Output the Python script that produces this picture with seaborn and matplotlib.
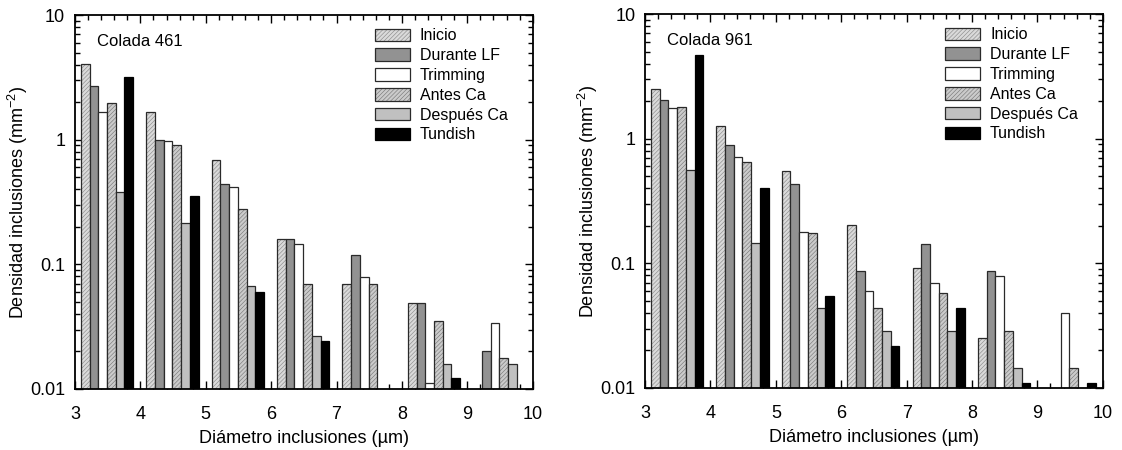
import numpy as np
import pandas as pd
import matplotlib
matplotlib.use("Agg")
import matplotlib.pyplot as plt
import matplotlib.ticker as mticker
from matplotlib.patches import Patch
from matplotlib.colors import to_rgba
import seaborn as sns

# ---------------- data ----------------
bins = [3, 4, 5, 6, 7, 8, 9]          # lower edge of each diameter bin (µm)
series = ["Inicio", "Durante LF", "Trimming", "Antes Ca", "Después Ca", "Tundish"]

# Colada 461
c461_inicio   = [4.06, 1.67, 0.69, 0.159, 0.0695, 0.0493, np.nan]
c461_durante  = [2.68, 0.99, 0.437, 0.159, 0.119, 0.0493, 0.0200]
c461_trimming = [1.67, 0.97, 0.417, 0.146, 0.0789, 0.0112, 0.0339]
c461_antes    = [1.97, 0.91, 0.279, 0.0701, 0.0701, 0.0350, 0.0176]
c461_despues  = [0.377, 0.214, 0.0668, 0.0265, np.nan, 0.0158, 0.0158]
c461_tundish  = [3.17, 0.353, 0.0605, 0.0241, np.nan, 0.0123, np.nan]

# Colada 961
c961_inicio   = [2.50, 1.27, 0.555, 0.202, 0.092, 0.0251, np.nan]
c961_durante  = [2.04, 0.895, 0.431, 0.0865, 0.144, 0.0865, np.nan]
c961_trimming = [1.75, 0.707, 0.180, 0.0601, 0.0701, 0.0798, 0.0399]
c961_antes    = [1.80, 0.652, 0.174, 0.0435, 0.0579, 0.0289, 0.0145]
c961_despues  = [0.565, 0.145, 0.0435, 0.0289, 0.0289, 0.0145, np.nan]
c961_tundish  = [4.65, 0.405, 0.0551, 0.0219, 0.0438, 0.0110, 0.0110]

titles = ["Colada 461", "Colada 961"]
xlabel = "Diámetro inclusiones (µm)"
ylabel = "Densidad inclusiones (mm$^{-2}$)"
yticks = [0.01, 0.1, 1, 10]
ytick_labels = ["0.01", "0.1", "1", "10"]
xticks = [3, 4, 5, 6, 7, 8, 9, 10]

# ---------------- style ----------------
sns.set_theme(style="ticks")
plt.rcParams["font.family"] = ["Liberation Sans", "DejaVu Sans"]
plt.rcParams["mathtext.fontset"] = "custom"
plt.rcParams["mathtext.rm"] = "Liberation Sans"
plt.rcParams["mathtext.it"] = "Liberation Sans:italic"
plt.rcParams["hatch.linewidth"] = 0.45
plt.rcParams["text.color"] = "black"
plt.rcParams["axes.labelcolor"] = "black"
plt.rcParams["xtick.color"] = "black"
plt.rcParams["ytick.color"] = "black"
plt.rcParams["xtick.labelcolor"] = "black"
plt.rcParams["ytick.labelcolor"] = "black"

face = {"Inicio": "#dadada", "Durante LF": "#929292", "Trimming": "#ffffff",
        "Antes Ca": "#cbcbcb", "Después Ca": "#c0c0c0", "Tundish": "#000000"}
hatch = {"Inicio": "////////", "Durante LF": "", "Trimming": "",
         "Antes Ca": "////////", "Después Ca": "", "Tundish": ""}
hatch_col = {"Inicio": "#8c8c8c", "Antes Ca": "#7a7a7a"}
edge = "#2a2a2a"


def make_df(cols):
    rows = []
    for s, vals in zip(series, cols):
        for b, v in zip(bins, vals):
            rows.append({"center": b + 0.49, "serie": s, "valor": v})
    return pd.DataFrame(rows)


def style_patch(p, s):
    p.set_facecolor(face[s])
    p.set_edgecolor("#000000" if s == "Tundish" else edge)
    p.set_hatch(hatch[s])
    if s in hatch_col:
        p._hatch_color = to_rgba(hatch_col[s])


datasets = [
    make_df([c461_inicio, c461_durante, c461_trimming, c461_antes, c461_despues, c461_tundish]),
    make_df([c961_inicio, c961_durante, c961_trimming, c961_antes, c961_despues, c961_tundish]),
]

fig = plt.figure(figsize=(11.22, 4.5), dpi=100)
axes = [fig.add_axes([0.0668, 0.1356, 0.408, 0.831]),
        fig.add_axes([0.5749, 0.1378, 0.408, 0.831])]

for ax, df, title in zip(axes, datasets, titles):
    sns.barplot(data=df, x="center", y="valor", hue="serie", hue_order=series,
                palette=face, native_scale=True, width=0.8, dodge=True,
                errorbar=None, edgecolor=edge, linewidth=0.9, ax=ax,
                legend=False, saturation=1)
    for cont, s in zip(ax.containers, series):
        for p in cont.patches:
            style_patch(p, s)
    ax.set_yscale("log")
    ax.set_ylim(0.01, 10)
    ax.set_xlim(3, 10)
    ax.set_xticks(xticks)
    ax.set_xticklabels([str(t) for t in xticks])
    ax.xaxis.set_minor_locator(mticker.MultipleLocator(0.2))
    ax.set_yticks(yticks)
    ax.set_yticklabels(ytick_labels)
    ax.yaxis.set_minor_locator(mticker.LogLocator(base=10, subs=np.arange(2, 10) * 1.0))
    ax.yaxis.set_minor_formatter(mticker.NullFormatter())
    ax.tick_params(which="both", direction="in", top=True, right=True,
                   labelsize=13, color="black", labelcolor="black", width=1.0)
    ax.tick_params(which="major", length=6)
    ax.tick_params(axis="x", which="major", pad=12)
    ax.tick_params(axis="y", which="major", pad=7)
    ax.tick_params(which="minor", length=3.5)
    for sp in ax.spines.values():
        sp.set_visible(True)
        sp.set_linewidth(1.3)
        sp.set_color("black")
    ax.set_xlabel(xlabel, fontsize=13, labelpad=5, color="black")
    ax.set_ylabel(ylabel, fontsize=13, labelpad=0, color="black")
    ax.text(0.048, 0.928, title, transform=ax.transAxes, fontsize=12,
            ha="left", va="center", color="black")
    handles = []
    for s in series:
        h = Patch(facecolor=face[s], edgecolor=("#000000" if s == "Tundish" else edge),
                  hatch=hatch[s], linewidth=0.9, label=s)
        if s in hatch_col:
            h._hatch_color = to_rgba(hatch_col[s])
        handles.append(h)
    leg = ax.legend(handles=handles, loc="upper right", bbox_to_anchor=(0.97, 0.994),
                    frameon=False, fontsize=11.5, handlelength=2.15, handleheight=0.85,
                    labelspacing=0.3, handletextpad=0.65, borderaxespad=0.3)
    for t in leg.get_texts():
        t.set_color("black")

fig.savefig("out.png", dpi=100)
